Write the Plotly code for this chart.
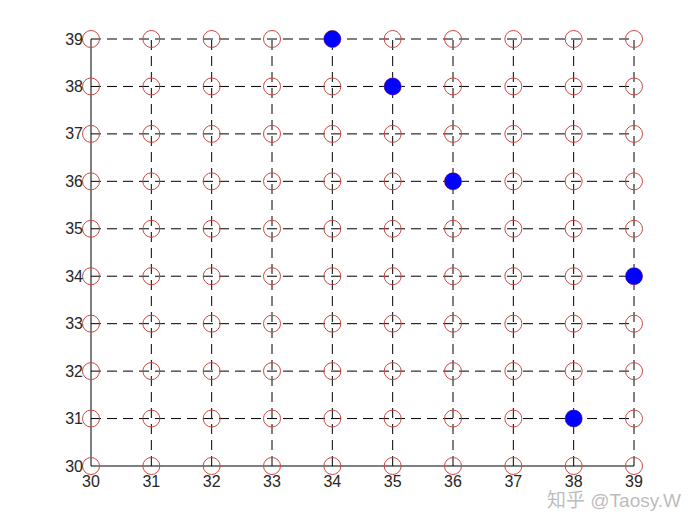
import plotly.graph_objects as go

grid_vals = list(range(30, 40))
tick_labels = [str(v) for v in grid_vals]
blue_x = [34, 35, 36, 39, 38]
blue_y = [39, 38, 36, 34, 31]

gx = [x for x in grid_vals for y in grid_vals]
gy = [y for x in grid_vals for y in grid_vals]

lo, hi = grid_vals[0], grid_vals[-1]
fig = go.Figure()

# dashed grid lines at every integer (including the top/right edges)
for v in grid_vals[1:]:
    fig.add_shape(type="line", xref="x", yref="y", x0=v, x1=v, y0=lo, y1=hi,
                  line=dict(color="black", width=1, dash="10px,6px"), layer="below")
    fig.add_shape(type="line", xref="x", yref="y", y0=v, y1=v, x0=lo, x1=hi,
                  line=dict(color="black", width=1, dash="10px,6px"), layer="below")
# solid left/bottom axis lines
fig.add_shape(type="line", xref="x", yref="y", x0=lo, x1=lo, y0=lo, y1=hi,
              line=dict(color="black", width=1), layer="below")
fig.add_shape(type="line", xref="x", yref="y", x0=lo, x1=hi, y0=lo, y1=lo,
              line=dict(color="black", width=1), layer="below")

fig.add_trace(go.Scatter(
    x=gx, y=gy, mode="markers", cliponaxis=False,
    marker=dict(symbol="circle-open", size=17, color="#cc4a44", line=dict(width=1, color="#cc4a44")),
    showlegend=False, hoverinfo="skip"))
fig.add_trace(go.Scatter(
    x=blue_x, y=blue_y, mode="markers", cliponaxis=False,
    marker=dict(symbol="circle", size=17, color="#0000ff", line=dict(width=0)),
    showlegend=False))

axis_common = dict(
    tickvals=grid_vals, ticktext=tick_labels,
    showgrid=False, zeroline=False, showline=False,
    ticks="", tickfont=dict(family="Liberation Sans, Arial", size=16, color="#262626"),
)
dx = 0.01657
dy = 0.0211
fig.update_xaxes(**axis_common, range=[lo - dx, hi + dx], ticklabelstandoff=3)
fig.update_yaxes(**axis_common, range=[lo - dy, hi + dy], ticklabelstandoff=6)

fig.add_annotation(
    text="知乎 @Taosy.W", xref="paper", yref="paper", x=1.088, y=-0.05,
    xanchor="right", yanchor="top", showarrow=False,
    font=dict(family="Liberation Sans, Noto Sans CJK SC", size=19, color="rgba(175,175,175,0.85)"))

fig.update_layout(
    width=700, height=525,
    margin=dict(l=90, r=65, t=38, b=58),
    paper_bgcolor="white", plot_bgcolor="white",
)
fig.write_html("out.html")
